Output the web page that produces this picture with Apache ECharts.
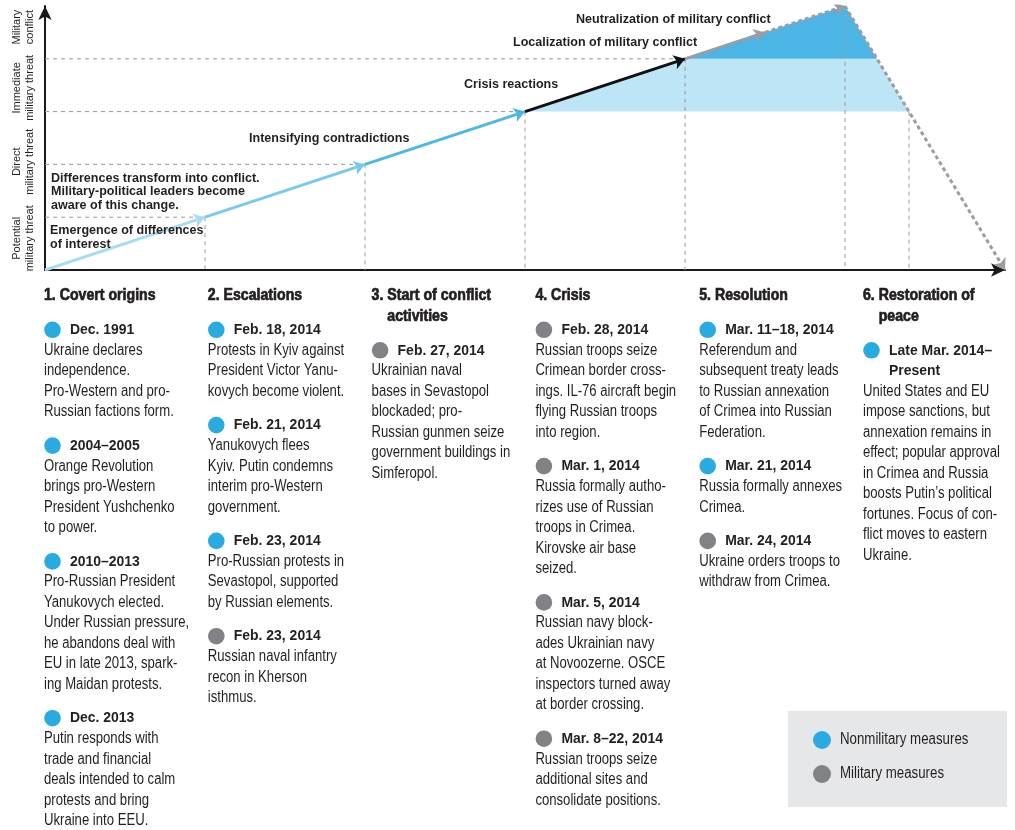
<!DOCTYPE html>
<html><head><meta charset="utf-8">
<script src="https://cdn.jsdelivr.net/npm/echarts@6/dist/echarts.min.js"></script>
<style>html,body{margin:0;padding:0;background:#fff}#c{width:1015px;height:830px}</style>
</head><body><div id="c"></div>
<script>
// ---------------- DATA ----------------
const stageX = [0, 1, 2, 3, 4, 5, 6];
const threatLevel = [0, 1, 2, 3, 4, 5, 0];
const grayWaypoint = [4.5, 4.5];
const levelTickValues = [0.6, 2.05, 3.45, 4.6];
const levelLabels = ['Potential\nmilitary threat', 'Direct\nmilitary threat', 'Immediate\nmilitary threat', 'Military\nconflict'];
const lightBand = [3, 4];
const darkBandFloor = 4;
const annotations = [
  'Emergence of differences\nof interest',
  'Differences transform into conflict.\nMilitary-political leaders become\naware of this change.',
  'Intensifying contradictions',
  'Crisis reactions',
  'Localization of military conflict',
  'Neutralization of military conflict'
];
const phaseTitles = [
  ['1. Covert origins'], ['2. Escalations'], ['3. Start of conflict', 'activities'],
  ['4. Crisis'], ['5. Resolution'], ['6. Restoration of', 'peace']
];
const phase1 = [
  {kind: 'non', date: ['Dec. 1991'], text: ['Ukraine declares', 'independence.', 'Pro-Western and pro-', 'Russian factions form.']},
  {kind: 'non', date: ['2004–2005'], text: ['Orange Revolution', 'brings pro-Western', 'President Yushchenko', 'to power.']},
  {kind: 'non', date: ['2010–2013'], text: ['Pro-Russian President', 'Yanukovych elected.', 'Under Russian pressure,', 'he abandons deal with', 'EU in late 2013, spark-', 'ing Maidan protests.']},
  {kind: 'non', date: ['Dec. 2013'], text: ['Putin responds with', 'trade and financial', 'deals intended to calm', 'protests and bring', 'Ukraine into EEU.']}
];
const phase2 = [
  {kind: 'non', date: ['Feb. 18, 2014'], text: ['Protests in Kyiv against', 'President Victor Yanu-', 'kovych become violent.']},
  {kind: 'non', date: ['Feb. 21, 2014'], text: ['Yanukovych flees', 'Kyiv. Putin condemns', 'interim pro-Western', 'government.']},
  {kind: 'non', date: ['Feb. 23, 2014'], text: ['Pro-Russian protests in', 'Sevastopol, supported', 'by Russian elements.']},
  {kind: 'mil', date: ['Feb. 23, 2014'], text: ['Russian naval infantry', 'recon in Kherson', 'isthmus.']}
];
const phase3 = [
  {kind: 'mil', date: ['Feb. 27, 2014'], text: ['Ukrainian naval', 'bases in Sevastopol', 'blockaded; pro-', 'Russian gunmen seize', 'government buildings in', 'Simferopol.']}
];
const phase4 = [
  {kind: 'mil', date: ['Feb. 28, 2014'], text: ['Russian troops seize', 'Crimean border cross-', 'ings. IL-76 aircraft begin', 'flying Russian troops', 'into region.']},
  {kind: 'mil', date: ['Mar. 1, 2014'], text: ['Russia formally autho-', 'rizes use of Russian', 'troops in Crimea.', 'Kirovske air base', 'seized.']},
  {kind: 'mil', date: ['Mar. 5, 2014'], text: ['Russian navy block-', 'ades Ukrainian navy', 'at Novoozerne. OSCE', 'inspectors turned away', 'at border crossing.']},
  {kind: 'mil', date: ['Mar. 8–22, 2014'], text: ['Russian troops seize', 'additional sites and', 'consolidate positions.']}
];
const phase5 = [
  {kind: 'non', date: ['Mar. 11–18, 2014'], text: ['Referendum and', 'subsequent treaty leads', 'to Russian annexation', 'of Crimea into Russian', 'Federation.']},
  {kind: 'non', date: ['Mar. 21, 2014'], text: ['Russia formally annexes', 'Crimea.']},
  {kind: 'mil', date: ['Mar. 24, 2014'], text: ['Ukraine orders troops to', 'withdraw from Crimea.']}
];
const phase6 = [
  {kind: 'non', date: ['Late Mar. 2014–', 'Present'], text: ['United States and EU', 'impose sanctions, but', 'annexation remains in', 'effect; popular approval', 'in Crimea and Russia', 'boosts Putin’s political', 'fortunes. Focus of con-', 'flict moves to eastern', 'Ukraine.']}
];
const legendKinds = ['non', 'mil'];
const legendLabels = ['Nonmilitary measures', 'Military measures'];

// ---------------- STYLE / LAYOUT ----------------
const FAMILY = "'Liberation Sans', Arial, sans-serif";
const INK = '#231f20';
const KIND_COLOR = {non: '#29abe2', mil: '#808285'};
const SEG_COLOR = ['#a9dcf4', '#79c8ee', '#4cb8e8', '#111111', '#9b9da0', '#9b9da0'];
const SEG_DOTTED = [false, false, false, false, false, true];
const DOT = [4, 3];

function fAt(x) {
  for (let i = 0; i < stageX.length - 1; i++) {
    if (x >= stageX[i] && x <= stageX[i + 1]) {
      const t = (x - stageX[i]) / (stageX[i + 1] - stageX[i]);
      return threatLevel[i] + t * (threatLevel[i + 1] - threatLevel[i]);
    }
  }
  return 0;
}
function crossings(level) {
  const out = [];
  for (let i = 0; i < stageX.length - 1; i++) {
    const y1 = threatLevel[i], y2 = threatLevel[i + 1];
    if ((y1 - level) * (y2 - level) < 0) {
      out.push(stageX[i] + (level - y1) / (y2 - y1) * (stageX[i + 1] - stageX[i]));
    }
  }
  return out;
}
function bandPolygon(lo, hi) {
  let xs = stageX.slice().concat(crossings(lo)).concat(isFinite(hi) ? crossings(hi) : []);
  xs = Array.from(new Set(xs)).sort((a, b) => a - b).filter(x => fAt(x) >= lo - 1e-9);
  const top = xs.map(x => [x, Math.min(fAt(x), hi)]);
  const bottom = xs.slice().reverse().map(x => [x, lo]);
  return top.concat(bottom);
}

const series = [];
// shaded bands
[[bandPolygon(lightBand[0], lightBand[1]), '#bde5f6'], [bandPolygon(darkBandFloor, Infinity), '#4bb6e6']].forEach(([poly, fill]) => {
  series.push({
    type: 'custom', coordinateSystem: 'cartesian2d', silent: true, z: 1, data: [[0, 0]],
    renderItem: (p, api) => ({type: 'polygon', shape: {points: poly.map(pt => api.coord(pt))}, style: {fill}})
  });
});
// drop lines
const maxLevel = Math.max.apply(null, threatLevel);
const dropPts = [];
for (let i = 1; i < stageX.length - 1; i++) dropPts.push([stageX[i], threatLevel[i], threatLevel[i] < maxLevel]);
crossings(lightBand[0]).filter(x => x > stageX[3]).forEach(x => dropPts.push([x, lightBand[0], false]));
dropPts.forEach(([x, y, horiz]) => {
  const d = horiz ? [[0, y], [x, y], [x, 0]] : [[x, y], [x, 0]];
  series.push({
    type: 'line', data: d, symbol: 'none', silent: true, z: 2,
    lineStyle: {color: '#9a9a9a', width: 1, type: [4, 4]}
  });
});
// path segments with arrows
function seg(a, b, color, dotted) {
  series.push({
    type: 'lines', coordinateSystem: 'cartesian2d', silent: true, z: 5,
    symbol: ['none', 'arrow'], symbolSize: 11,
    lineStyle: {color, width: 3, type: dotted ? DOT : 'solid', opacity: 1, cap: 'butt'},
    data: [{coords: [a, b]}]
  });
}
for (let i = 0; i < stageX.length - 1; i++) {
  const a = [stageX[i], threatLevel[i]], b = [stageX[i + 1], threatLevel[i + 1]];
  if (i === 4) {
    seg(a, grayWaypoint, SEG_COLOR[i], false);
    seg(grayWaypoint, b, SEG_COLOR[i], true);
  } else {
    seg(a, b, SEG_COLOR[i], SEG_DOTTED[i]);
  }
}

// ---------------- GRAPHIC TEXT ----------------
const graphic = [];
function txt(x, y, text, size, weight, lh, sx, strokeW) {
  const style = {text, fill: INK, fontFamily: FAMILY, fontSize: size, fontWeight: weight, lineHeight: lh, align: 'left', verticalAlign: 'top'};
  if (strokeW) { style.stroke = INK; style.lineWidth = strokeW; }
  graphic.push({type: 'text', x, y, scaleX: sx, scaleY: 1, silent: true, z: 20, style});
}
function dot(cx, cy, r, kind) {
  graphic.push({type: 'circle', silent: true, z: 20, shape: {cx, cy, r}, style: {fill: KIND_COLOR[kind]}});
}
// chart annotations (pixel placement)
const annPos = [[50, 230, 14], [51, 178, 13.5], [249, 138, 14], [464, 84, 14], [513, 42, 14], [576, 19, 14]];
annotations.forEach((t, i) => {
  const [x, cy, lh] = annPos[i];
  txt(x, cy - lh / 2, t, 13.5, 700, lh, 0.93);
});
// columns
const phases = [phase1, phase2, phase3, phase4, phase5, phase6];
const LH = 20.5, GAP = 33.8, COL0 = 44, COLW = 163.8;
phases.forEach((events, c) => {
  const x0 = COL0 + c * COLW;
  let y = 296;
  txt(x0, y - LH / 2, phaseTitles[c].map((l, k) => (k ? '    ' : '') + l).join('\n'), 15.9, 700, LH, 0.89, 0.7);
  y += (phaseTitles[c].length - 1) * LH + GAP;
  events.forEach(ev => {
    dot(x0 + 8.5, y, 8.3, ev.kind);
    txt(x0 + 26, y - LH / 2, ev.date.join('\n'), 15.5, 700, LH, 0.9);
    y += ev.date.length * LH;
    txt(x0, y - LH / 2, ev.text.join('\n'), 16, 400, LH, 0.82);
    y += (ev.text.length - 1) * LH + GAP;
  });
});
// legend
graphic.push({type: 'rect', silent: true, z: 15, shape: {x: 788, y: 711, width: 219, height: 96}, style: {fill: '#e6e7e8'}});
legendKinds.forEach((k, i) => {
  dot(822, 740 + i * 34, 9, k);
  txt(840, 740 + i * 34 - 10, legendLabels[i], 16, 400, 20, 0.83);
});

// ---------------- CHART ----------------
const chart = echarts.init(document.getElementById('c'), null, {renderer: 'canvas'});
chart.setOption({
  animation: false,
  backgroundColor: '#ffffff',
  grid: {left: 45, right: 10, top: 6, bottom: 560, containLabel: false},
  xAxis: {
    type: 'value', min: 0, max: 6, interval: 1,
    axisLine: {show: true, lineStyle: {color: '#1a1a1a', width: 2}, symbol: ['none', 'arrow'], symbolSize: [10, 14]},
    axisTick: {show: false}, axisLabel: {show: false}, splitLine: {show: false}
  },
  yAxis: {
    type: 'value', min: 0, max: 5, interval: 0.05,
    axisLine: {show: true, lineStyle: {color: '#1a1a1a', width: 2}, symbol: ['none', 'arrow'], symbolSize: [10, 14]},
    axisTick: {show: false}, splitLine: {show: false},
    axisLabel: {
      show: true, rotate: 90, margin: 9, color: INK, fontFamily: FAMILY, fontSize: 11, lineHeight: 13,
      showMinLabel: true, showMaxLabel: true, hideOverlap: false,
      formatter: v => { const i = levelTickValues.findIndex(t => Math.abs(t - v) < 1e-6); return i >= 0 ? levelLabels[i] : ''; }
    }
  },
  series,
  graphic
});
</script>
</body></html>
